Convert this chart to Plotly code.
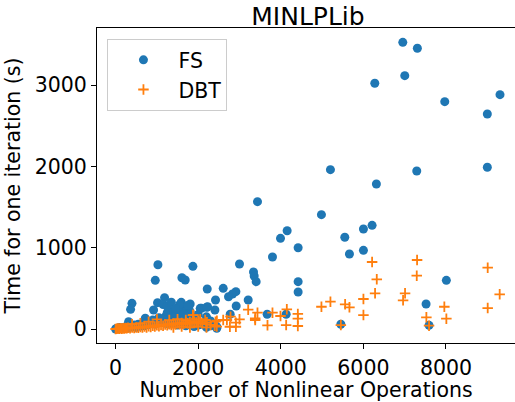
import plotly.graph_objects as go

# FS series (Number of nonlinear operations, time per iteration)
fs_x = [6954, 7307, 7002, 6276, 7970, 9308, 9001,
        5202, 7292, 9001, 6315, 3436, 4984, 4154, 3993, 5550, 6001, 6211,
        5662, 6001, 4420, 4420, 4420, 8009, 7518, 5454, 7590,
        3799, 3000, 3339, 3356, 3404, 2219, 2606, 2913, 2831, 2734, 2420, 3211, 2920, 2226, 2405, 3670, 4130, 2775,
        1025, 1872, 961, 1606, 1686, 397, 363, 1016, 1186, 920, 1590, 1807, 2049, 315, 719, 2081, 2211,
        1200, 1250, 1300, 1350, 1400, 1450, 1500, 1550, 1600, 1650, 1700, 1750, 1800, 1850, 1900, 1950,
        2000, 2100, 2200, 2300, 2400, 2450,
        0, 20, 50, 80, 100, 150, 200, 250, 300, 350, 400, 450, 500, 550, 600, 650, 700, 750, 800, 850,
        900, 950, 1000, 1050, 1100, 1150, 1200, 1300, 1400, 1500, 1600, 1700, 1800, 1900, 2000, 2200,
        2300, 2450, 1150, 1250, 1350, 1700, 1550, 1450, 1650, 1750]
fs_y = [3526, 3453, 3116, 3022, 2796, 2882, 2645,
        1960, 1943, 1989, 1784, 1566, 1406, 1209, 1115, 1128, 1230, 1275,
        922, 968, 1000, 582, 455, 599, 307, 58, 45,
        886, 800, 701, 652, 582, 492, 500, 459, 430, 397, 357, 357, 283, 274, 234, 181, 181, 181,
        791, 771, 599, 631, 603, 316, 242, 324, 385, 234, 328, 307, 254, 90, 132, 254, 267,
        150, 200, 120, 180, 230, 160, 260, 200, 140, 240, 180, 100, 220, 150, 80, 120,
        180, 60, 150, 100, 40, 30,
        0, 5, 10, 3, 20, 8, 15, 30, 12, 40, 25, 50, 20, 60, 35, 70, 40, 90, 55, 80,
        110, 60, 100, 140, 90, 120, 70, 60, 90, 50, 80, 40, 60, 30, 50, 20,
        40, 10, 300, 280, 330, 280, 300, 250, 190, 290]

# DBT series
dbt_x = [6211, 7300, 6324, 7292, 9010, 6283, 7009, 6961, 6001, 9300, 5202, 4984, 5558, 5662, 6001,
         7960, 9010, 7525, 8009, 5454, 7590,
         3211, 3436, 3799, 4146, 3993, 4413, 4413, 3380, 3380, 3000, 2783, 2606, 3678, 4130, 4413,
         2768, 2913, 2913, 2420, 2211, 2695, 2453, 1887, 2049, 2170, 1001, 1872,
         0, 30, 60, 90, 120, 150, 180, 210, 240, 270, 300, 350, 400, 450, 500, 550, 600, 650, 700, 750,
         800, 850, 900, 950, 1000, 1050, 1100, 1150, 1200, 1250, 1300, 1350, 1400, 1450, 1500, 1550,
         1600, 1650, 1700, 1750, 1800, 1850, 1900, 1950, 2000, 2050, 2100, 2200, 2300, 2400, 2450,
         1300, 1500, 1700, 1400, 1600, 1800, 2000, 2200, 800, 600, 400]
dbt_y = [824, 849, 611, 656, 754, 439, 439, 353, 369, 427, 336, 274, 304, 267, 172,
         274, 258, 144, 127, 49, 41,
         238, 201, 201, 242, 160, 185, 127, 131, 111, 119, 152, 111, 45, 49, 37,
         28, 28, 78, 90, 82, 111, 102, 172, 119, 111, 119, 172,
         0, 2, 5, 3, 8, 4, 10, 6, 12, 8, 15, 10, 18, 12, 20, 15, 25, 18, 30, 20,
         35, 25, 40, 30, 45, 35, 50, 40, 55, 45, 60, 50, 65, 55, 70, 60,
         75, 65, 80, 70, 85, 75, 90, 80, 95, 85, 70, 60, 50, 40, 30,
         110, 120, 110, 20, 30, 20, 30, 20, 90, 70, 60]

FONT = "DejaVu Sans"
BLUE = "#1f77b4"
ORANGE = "#ff7f0e"
FS_SIZE = 20.5

fig = go.Figure()
fig.add_trace(go.Scatter(
    x=fs_x, y=fs_y, mode="markers", name="FS",
    marker=dict(symbol="circle", size=9, color=BLUE, line=dict(width=0)),
))
fig.add_trace(go.Scatter(
    x=dbt_x, y=dbt_y, mode="markers", name="DBT",
    marker=dict(symbol="cross-thin", size=7.5, color=ORANGE, line=dict(width=1.8, color=ORANGE)),
))

fig.update_layout(
    width=515, height=402,
    margin=dict(l=97, r=0, t=28, b=59),
    paper_bgcolor="white", plot_bgcolor="white",
    font=dict(family=FONT, size=FS_SIZE, color="black"),
    title=dict(text="MINLPLib", x=0.598, xanchor="center", y=1, yref="paper", yanchor="bottom",
               pad=dict(b=3), font=dict(size=25, family=FONT, color="black")),
    showlegend=True,
    legend=dict(x=0.025, y=0.965, xanchor="left", yanchor="top", itemwidth=60,
                bordercolor="#cccccc", borderwidth=1, bgcolor="rgba(255,255,255,0.8)",
                font=dict(size=FS_SIZE, family=FONT)),
    xaxis=dict(range=[-450, 9671], tickvals=[0, 2000, 4000, 6000, 8000], ticks="outside", ticklen=5,
               tickcolor="black", showline=True, linecolor="black", linewidth=1, mirror=True,
               showgrid=False, zeroline=False, tickfont=dict(size=FS_SIZE, family=FONT),
               ticklabelstandoff=1,
               title=dict(text="Number of Nonlinear Operations", standoff=5,
                          font=dict(size=FS_SIZE, family=FONT))),
    yaxis=dict(range=[-172, 3702], tickvals=[0, 1000, 2000, 3000], ticks="outside", ticklen=5,
               tickcolor="black", showline=True, linecolor="black", linewidth=1,
               showgrid=False, zeroline=False, tickfont=dict(size=FS_SIZE, family=FONT),
               title=dict(text="Time for one iteration (s)", standoff=8,
                          font=dict(size=FS_SIZE, family=FONT))),
)

fig.write_html("out.html")
